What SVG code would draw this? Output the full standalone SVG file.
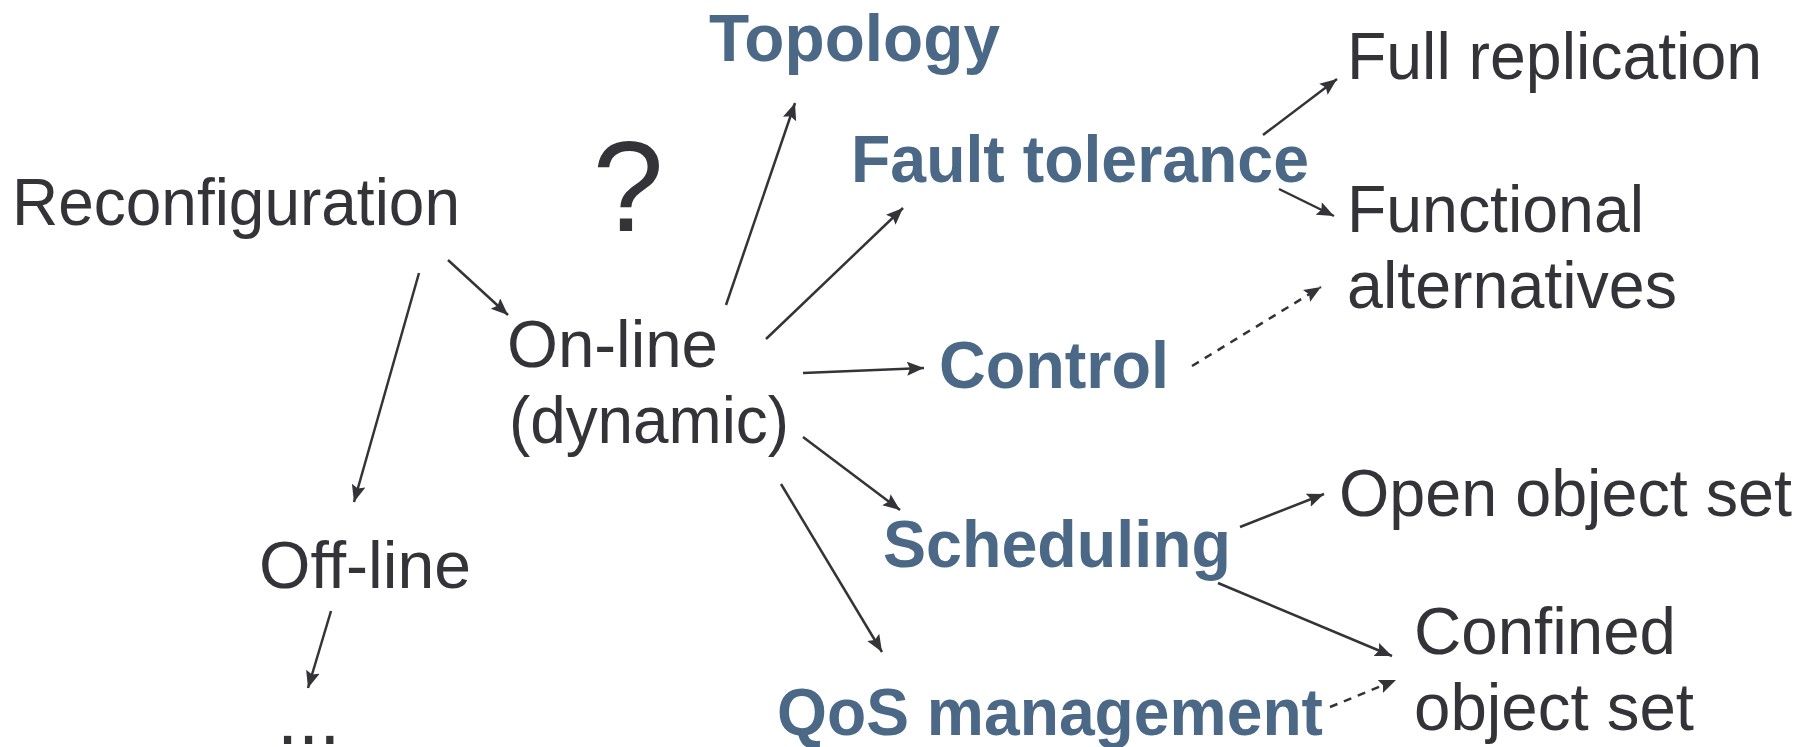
<svg xmlns="http://www.w3.org/2000/svg" width="1807" height="747" viewBox="0 0 1807 747">
  <defs>
    <marker id="head" markerUnits="userSpaceOnUse" markerWidth="18" markerHeight="16" refX="17" refY="7" orient="auto">
      <path d="M0,0 L17,7 L0,14 L3,7 z" fill="#333338"/>
    </marker>
    <style>
      text { font-family: "Liberation Sans", Arial, sans-serif; font-size: 66px; }
      .plain { fill: #333338; }
      .topic { fill: #4b6886; font-weight: bold; }
      .link { stroke: #333338; stroke-width: 2.5; fill: none; marker-end: url(#head); }
      .dash { stroke-dasharray: 8 7; }
    </style>
  </defs>

  <rect width="1807" height="747" fill="#ffffff"/>

  <!-- connectors -->
  <g id="connectors">
    <line class="link" x1="448" y1="260" x2="508" y2="315"/>
    <line class="link" x1="419" y1="273" x2="354" y2="502"/>
    <line class="link" x1="331" y1="611" x2="308" y2="688"/>
    <line class="link" x1="726" y1="305" x2="795" y2="103"/>
    <line class="link" x1="766" y1="339" x2="903" y2="208"/>
    <line class="link" x1="803" y1="373" x2="924" y2="368"/>
    <line class="link" x1="803" y1="437" x2="900" y2="510"/>
    <line class="link" x1="781" y1="484" x2="882" y2="652"/>
    <line class="link" x1="1263" y1="135" x2="1337" y2="79"/>
    <line class="link" x1="1279" y1="189" x2="1334" y2="216"/>
    <line class="link dash" x1="1192" y1="366" x2="1321" y2="287"/>
    <line class="link" x1="1240" y1="527" x2="1324" y2="494"/>
    <line class="link" x1="1218" y1="583" x2="1392" y2="656"/>
    <line class="link dash" x1="1330" y1="707" x2="1396" y2="680"/>
  </g>

  <g id="reconfiguration">
    <text class="plain" x="12" y="225" textLength="448" lengthAdjust="spacingAndGlyphs">Reconfiguration</text>
  </g>
  <g id="question">
    <text class="plain" x="628" y="231" text-anchor="middle" style="font-size:128px">?</text>
  </g>
  <g id="online">
    <text class="plain" x="507" y="367" textLength="211" lengthAdjust="spacingAndGlyphs">On-line</text>
    <text class="plain" x="509" y="443" textLength="280" lengthAdjust="spacingAndGlyphs">(dynamic)</text>
  </g>
  <g id="offline">
    <text class="plain" x="259" y="588" textLength="212" lengthAdjust="spacingAndGlyphs">Off-line</text>
  </g>
  <g id="ellipsis">
    <text class="plain" x="277" y="744" style="font-size:76px">...</text>
  </g>
  <g id="topology">
    <text class="topic" x="709" y="61" textLength="291" lengthAdjust="spacingAndGlyphs">Topology</text>
  </g>
  <g id="fault-tolerance">
    <text class="topic" x="851" y="182" textLength="458" lengthAdjust="spacingAndGlyphs">Fault tolerance</text>
  </g>
  <g id="control">
    <text class="topic" x="939" y="388" textLength="230" lengthAdjust="spacingAndGlyphs">Control</text>
  </g>
  <g id="scheduling">
    <text class="topic" x="883" y="567" textLength="348" lengthAdjust="spacingAndGlyphs">Scheduling</text>
  </g>
  <g id="qos-management">
    <text class="topic" x="777" y="735" textLength="546" lengthAdjust="spacingAndGlyphs">QoS management</text>
  </g>
  <g id="full-replication">
    <text class="plain" x="1347" y="79" textLength="415" lengthAdjust="spacingAndGlyphs">Full replication</text>
  </g>
  <g id="functional-alternatives">
    <text class="plain" x="1347" y="232" textLength="297" lengthAdjust="spacingAndGlyphs">Functional</text>
    <text class="plain" x="1347" y="308" textLength="330" lengthAdjust="spacingAndGlyphs">alternatives</text>
  </g>
  <g id="open-object-set">
    <text class="plain" x="1339" y="516" textLength="453" lengthAdjust="spacingAndGlyphs">Open object set</text>
  </g>
  <g id="confined-object-set">
    <text class="plain" x="1414" y="654" textLength="262" lengthAdjust="spacingAndGlyphs">Confined</text>
    <text class="plain" x="1414" y="730" textLength="280" lengthAdjust="spacingAndGlyphs">object set</text>
  </g>
</svg>
